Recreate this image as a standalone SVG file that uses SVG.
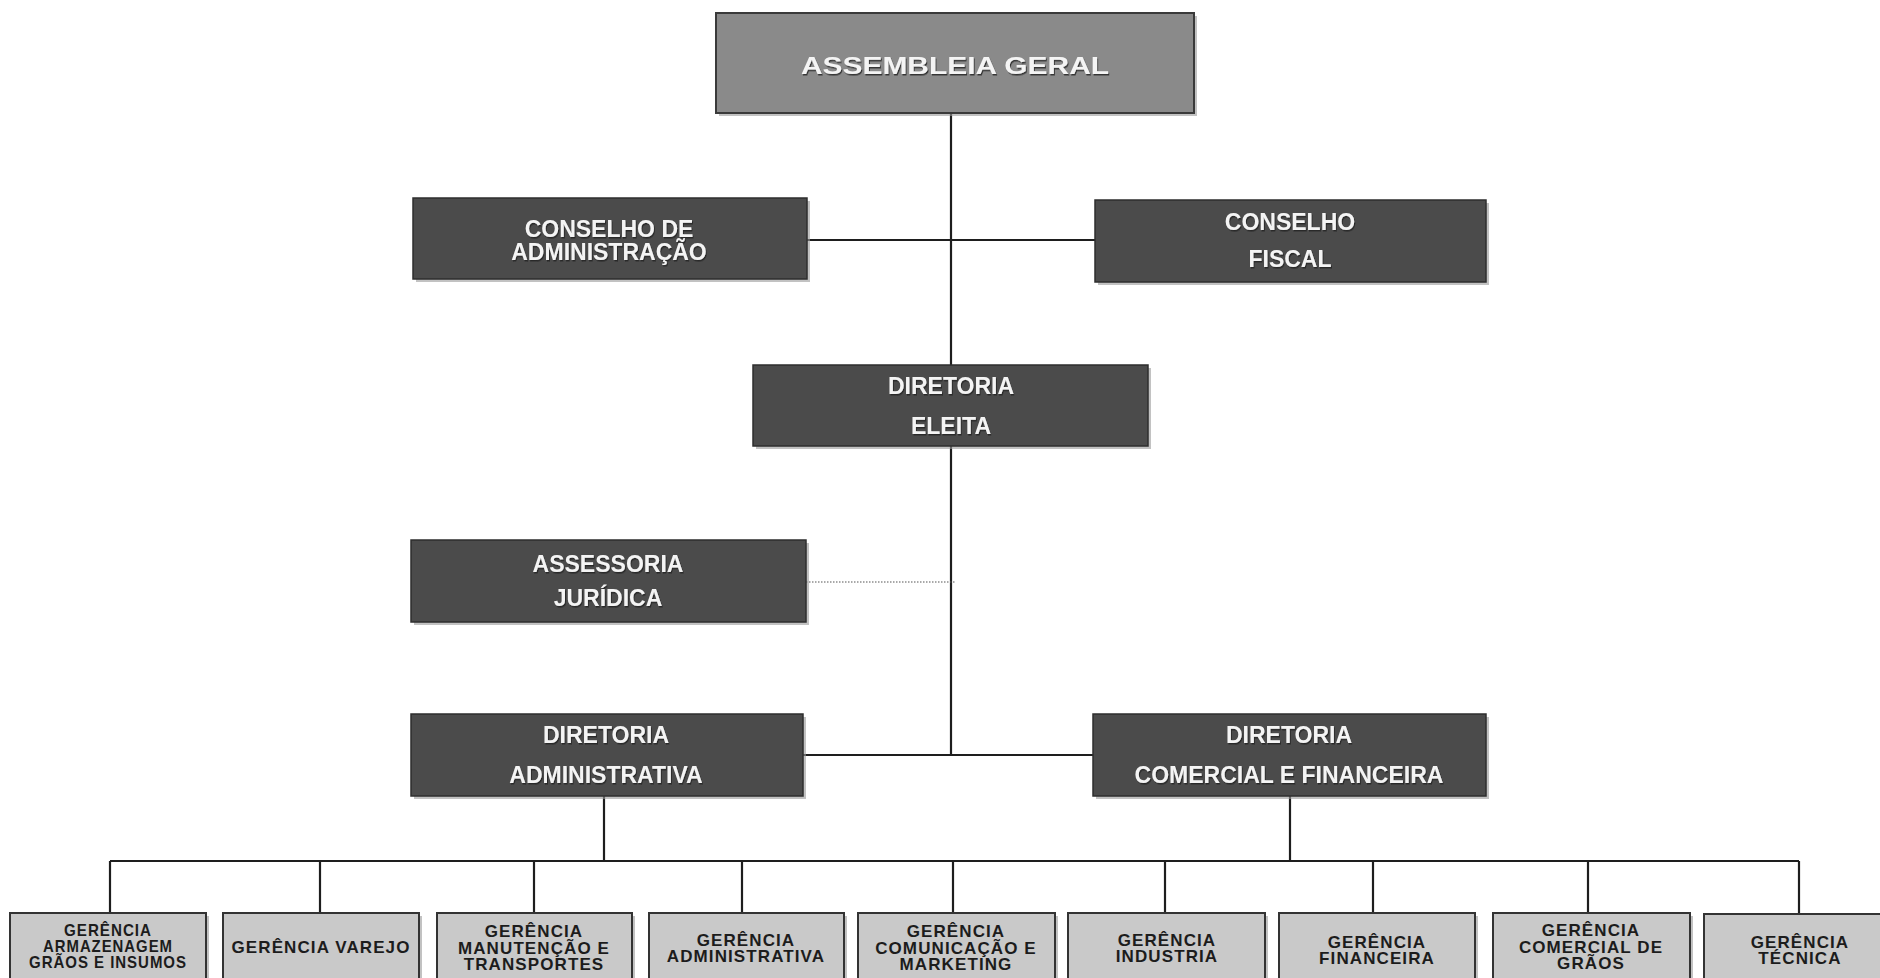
<svg xmlns="http://www.w3.org/2000/svg" width="1880" height="978" viewBox="0 0 1880 978">
<style>
  .dark { fill: #4b4b4b; stroke: #2e2e2e; stroke-width: 1.5; }
  .top { fill: #8a8a8a; stroke: #3a3a3a; stroke-width: 2; }
  .light { fill: #c9c9c9; stroke: #333; stroke-width: 2; }
  .shadow { fill: #9a9a9a; opacity: 0.6; }
  .wt { font-family: "Liberation Sans", Arial, sans-serif; font-weight: bold; fill: #f4f4f4; text-anchor: middle; font-size: 23px; filter: url(#ts); }
  .bt { font-family: "Liberation Sans", Arial, sans-serif; font-weight: bold; fill: #1c1c1c; text-anchor: middle; font-size: 17px; letter-spacing: 1.1px; }
  .ln { stroke: #1e1e1e; stroke-width: 2.2; fill: none; }
  .dot { stroke: #555; stroke-width: 1.2; stroke-dasharray: 1.5 1.5; fill: none; }
</style>
<defs>
  <filter id="ts" x="-10%" y="-30%" width="120%" height="160%">
    <feDropShadow dx="1" dy="1.5" stdDeviation="0.6" flood-color="#222" flood-opacity="0.8"/>
  </filter>
</defs>
<rect width="1880" height="978" fill="#ffffff"/>

<g id="connectors">
  <line class="ln" x1="951" y1="113" x2="951" y2="755"/>
  <line class="ln" x1="807" y1="240" x2="1095" y2="240" stroke-width="3"/>
  <line class="dot" x1="806" y1="582" x2="955" y2="582"/>
  <line class="ln" x1="803" y1="755" x2="1093" y2="755"/>
  <line class="ln" x1="604" y1="796" x2="604" y2="861"/>
  <line class="ln" x1="1290" y1="796" x2="1290" y2="861"/>
  <line class="ln" x1="110" y1="861" x2="1799" y2="861" stroke-width="2.6"/>
  <line class="ln" x1="110" y1="861" x2="110" y2="913"/>
  <line class="ln" x1="320" y1="861" x2="320" y2="913"/>
  <line class="ln" x1="534" y1="861" x2="534" y2="913"/>
  <line class="ln" x1="742" y1="861" x2="742" y2="913"/>
  <line class="ln" x1="953" y1="861" x2="953" y2="913"/>
  <line class="ln" x1="1165" y1="861" x2="1165" y2="913"/>
  <line class="ln" x1="1373" y1="861" x2="1373" y2="913"/>
  <line class="ln" x1="1588" y1="861" x2="1588" y2="913"/>
  <line class="ln" x1="1799" y1="861" x2="1799" y2="913"/>
</g>

<g id="assembleia-geral">
  <rect class="shadow" x="719" y="16" width="478" height="100"/>
  <rect class="top" x="716" y="13" width="478" height="100"/>
  <text class="wt" x="955" y="74" font-size="28" textLength="308" lengthAdjust="spacingAndGlyphs">ASSEMBLEIA GERAL</text>
</g>

<g id="conselho-administracao">
  <rect class="shadow" x="416" y="201" width="394" height="81"/>
  <rect class="dark" x="413" y="198" width="394" height="81"/>
  <text class="wt" x="609" y="237">CONSELHO DE</text>
  <text class="wt" x="609" y="260">ADMINISTRAÇÃO</text>
</g>

<g id="conselho-fiscal">
  <rect class="shadow" x="1098" y="203" width="391" height="82"/>
  <rect class="dark" x="1095" y="200" width="391" height="82"/>
  <text class="wt" x="1290" y="230">CONSELHO</text>
  <text class="wt" x="1290" y="267">FISCAL</text>
</g>

<g id="diretoria-eleita">
  <rect class="shadow" x="756" y="368" width="395" height="81"/>
  <rect class="dark" x="753" y="365" width="395" height="81"/>
  <text class="wt" x="951" y="394">DIRETORIA</text>
  <text class="wt" x="951" y="434">ELEITA</text>
</g>

<g id="assessoria-juridica">
  <rect class="shadow" x="414" y="543" width="395" height="82"/>
  <rect class="dark" x="411" y="540" width="395" height="82"/>
  <text class="wt" x="608" y="572">ASSESSORIA</text>
  <text class="wt" x="608" y="606">JURÍDICA</text>
</g>

<g id="diretoria-administrativa">
  <rect class="shadow" x="414" y="717" width="392" height="82"/>
  <rect class="dark" x="411" y="714" width="392" height="82"/>
  <text class="wt" x="606" y="743">DIRETORIA</text>
  <text class="wt" x="606" y="783">ADMINISTRATIVA</text>
</g>

<g id="diretoria-comercial-financeira">
  <rect class="shadow" x="1096" y="717" width="393" height="82"/>
  <rect class="dark" x="1093" y="714" width="393" height="82"/>
  <text class="wt" x="1289" y="743">DIRETORIA</text>
  <text class="wt" x="1289" y="783">COMERCIAL E FINANCEIRA</text>
</g>

<g id="gerencia-armazenagem">
  <rect class="shadow" x="13" y="916" width="196" height="70"/>
  <rect class="light" x="10" y="913" width="196" height="70"/>
  <text class="bt" x="108" y="936" font-size="14" letter-spacing="0" textLength="88" lengthAdjust="spacingAndGlyphs">GERÊNCIA</text>
  <text class="bt" x="108" y="952" font-size="14" letter-spacing="0" textLength="130" lengthAdjust="spacingAndGlyphs">ARMAZENAGEM</text>
  <text class="bt" x="108" y="968" font-size="14" letter-spacing="0" textLength="158" lengthAdjust="spacingAndGlyphs">GRÃOS E INSUMOS</text>
</g>

<g id="gerencia-varejo">
  <rect class="shadow" x="226" y="916" width="196" height="70"/>
  <rect class="light" x="223" y="913" width="196" height="70"/>
  <text class="bt" x="321" y="953" font-size="18">GERÊNCIA VAREJO</text>
</g>

<g id="gerencia-manutencao">
  <rect class="shadow" x="440" y="916" width="195" height="70"/>
  <rect class="light" x="437" y="913" width="195" height="70"/>
  <text class="bt" x="534" y="937">GERÊNCIA</text>
  <text class="bt" x="534" y="954">MANUTENÇÃO E</text>
  <text class="bt" x="534" y="970">TRANSPORTES</text>
</g>

<g id="gerencia-administrativa">
  <rect class="shadow" x="652" y="916" width="195" height="70"/>
  <rect class="light" x="649" y="913" width="195" height="70"/>
  <text class="bt" x="746" y="946">GERÊNCIA</text>
  <text class="bt" x="746" y="962">ADMINISTRATIVA</text>
</g>

<g id="gerencia-comunicacao">
  <rect class="shadow" x="861" y="916" width="197" height="70"/>
  <rect class="light" x="858" y="913" width="197" height="70"/>
  <text class="bt" x="956" y="937">GERÊNCIA</text>
  <text class="bt" x="956" y="954">COMUNICAÇÃO E</text>
  <text class="bt" x="956" y="970">MARKETING</text>
</g>

<g id="gerencia-industria">
  <rect class="shadow" x="1071" y="916" width="197" height="70"/>
  <rect class="light" x="1068" y="913" width="197" height="70"/>
  <text class="bt" x="1167" y="946">GERÊNCIA</text>
  <text class="bt" x="1167" y="962">INDUSTRIA</text>
</g>

<g id="gerencia-financeira">
  <rect class="shadow" x="1282" y="916" width="196" height="70"/>
  <rect class="light" x="1279" y="913" width="196" height="70"/>
  <text class="bt" x="1377" y="948">GERÊNCIA</text>
  <text class="bt" x="1377" y="964">FINANCEIRA</text>
</g>

<g id="gerencia-comercial-graos">
  <rect class="shadow" x="1496" y="916" width="197" height="70"/>
  <rect class="light" x="1493" y="913" width="197" height="70"/>
  <text class="bt" x="1591" y="936">GERÊNCIA</text>
  <text class="bt" x="1591" y="953">COMERCIAL DE</text>
  <text class="bt" x="1591" y="969">GRÃOS</text>
</g>

<g id="gerencia-tecnica">
  <rect class="light" x="1704" y="914" width="190" height="70" stroke-width="2.5"/>
  <text class="bt" x="1800" y="948">GERÊNCIA</text>
  <text class="bt" x="1800" y="964">TÉCNICA</text>
</g>
</svg>
